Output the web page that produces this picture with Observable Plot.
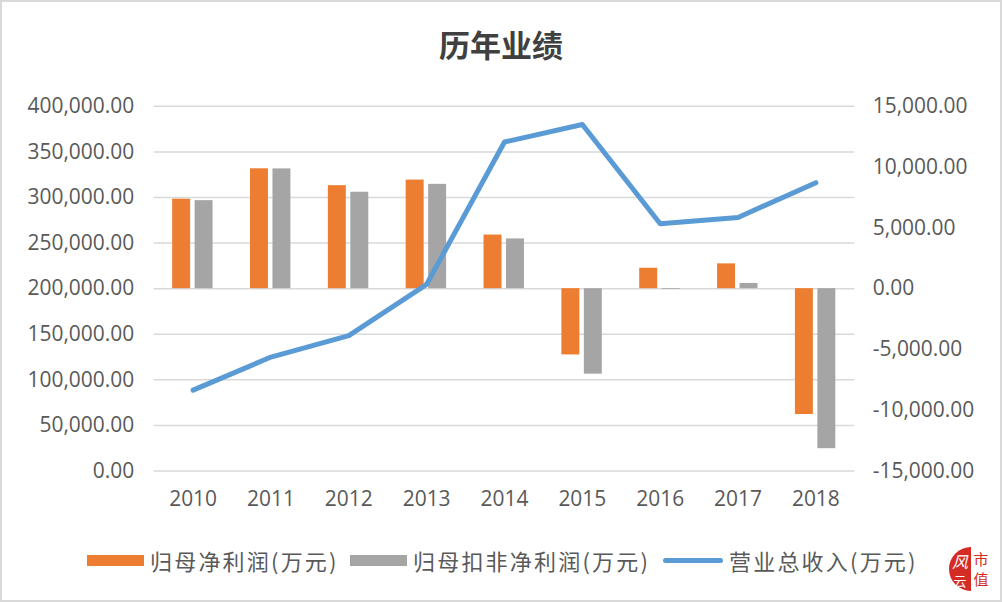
<!DOCTYPE html>
<html>
<head>
<meta charset="utf-8">
<script src="https://cdn.jsdelivr.net/npm/d3@7"></script>
<script src="https://cdn.jsdelivr.net/npm/@observablehq/plot@0.6"></script>
<style>
  html, body { margin: 0; padding: 0; background: #fff; }
  #wrap { position: relative; width: 1002px; height: 602px; box-sizing: border-box; border: 2px solid #d9d9d9; overflow: hidden; background: #fff; font-family: "Noto Sans CJK SC", "Open Sans", sans-serif; }
  #title { position: absolute; left: 0; right: 0; top: 20px; text-align: center; font-size: 31px; font-weight: bold; color: #404040; line-height: 44px; }
  #chart { position: absolute; left: -2px; top: -2px; }
  #legend { position: absolute; left: 0; top: 542px; width: 1002px; height: 32px; }
  .li { position: absolute; top: 0; display: flex; align-items: center; height: 32px; font-size: 22px; letter-spacing: 2.2px; color: #595959; }
  .sw { display: inline-block; margin-right: 6px; }
</style>
</head>
<body>
<div id="wrap">
  <div id="title">历年业绩</div>
  <div id="chart"></div>
  <div id="legend"></div>
  <svg id="logo" width="60" height="60" style="position:absolute; left:938px; top:536px;">
    <defs><clipPath id="lh"><rect x="0" y="0" width="31" height="60"></rect></clipPath></defs>
    <circle cx="31" cy="31" r="22" fill="#d42b24" clip-path="url(#lh)"></circle>
    <text x="20" y="30" font-size="16" fill="#fff" text-anchor="middle" font-family="Noto Sans CJK SC" font-style="italic">风</text>
    <text x="20" y="48" font-size="13" fill="#fff" text-anchor="middle" font-family="Noto Sans CJK SC">云</text>
    <text x="41" y="27" font-size="15" fill="#d42b24" text-anchor="middle" font-family="Noto Sans CJK SC">市</text>
    <text x="41" y="47" font-size="15" fill="#d42b24" text-anchor="middle" font-family="Noto Sans CJK SC">值</text>
  </svg>
</div>
<script>
// ---- data ----
const years = ["2010", "2011", "2012", "2013", "2014", "2015", "2016", "2017", "2018"];
const netProfit = [7360, 9860, 8470, 8930, 4410, -5450, 1680, 2040, -10350];        // 归母净利润(万元) – right axis
const deductedProfit = [7240, 9850, 7930, 8580, 4090, -7030, -60, 430, -13160];     // 归母扣非净利润(万元) – right axis
const revenue = [88700, 125000, 148600, 204800, 360800, 380000, 271200, 278100, 316200]; // 营业总收入(万元) – left axis
const leftTicks = [0, 50000, 100000, 150000, 200000, 250000, 300000, 350000, 400000];
const rightTicks = [-15000, -10000, -5000, 0, 5000, 10000, 15000];
const seriesNames = ["归母净利润(万元)", "归母扣非净利润(万元)", "营业总收入(万元)"];
const colors = ["#ED7D31", "#A5A5A5", "#5B9BD5"];

// left axis [0, 400000] mapped onto right axis [-15000, 15000]
const leftMin = 0, leftMax = 400000, rightMin = -15000, rightMax = 15000;
const toRight = v => (v - leftMin) / (leftMax - leftMin) * (rightMax - rightMin) + rightMin;
const toLeft = r => (r - rightMin) / (rightMax - rightMin) * (leftMax - leftMin) + leftMin;

const rows = years.map((y, i) => ({year: y, net: netProfit[i], ded: deductedProfit[i], rev: revenue[i]}));
const fmt = d3.formatLocale({decimal: ".", thousands: ",", grouping: [3], currency: ["", ""], minus: "-"}).format(",.2f");
const font = "Open Sans, Noto Sans CJK SC, sans-serif";

const chart = Plot.plot({
  width: 1002,
  height: 530,
  marginTop: 106,
  marginBottom: 58.5,
  marginLeft: 154,
  marginRight: 146,
  style: {fontFamily: font, fontSize: "21px", color: "#595959", background: "transparent"},
  x: {type: "band", domain: years, paddingInner: 0, paddingOuter: 0},
  y: {domain: [rightMin, rightMax]},
  marks: [
    Plot.ruleY(leftTicks, {y: d => toRight(d), stroke: "#d9d9d9", strokeWidth: 1.5}),
    Plot.barY(rows, {x: "year", y1: 0, y2: "net", fill: colors[0], insetLeft: 18.5, insetRight: 41.5}),
    Plot.barY(rows, {x: "year", y1: 0, y2: "ded", fill: colors[1], insetLeft: 41, insetRight: 19}),
    Plot.line(rows, {x: "year", y: d => toRight(d.rev), stroke: colors[2], strokeWidth: 5, strokeLinejoin: "round", strokeLinecap: "round"}),
    Plot.axisX({tickSize: 0, tickPadding: 20, fill: "#595959", fontSize: 21, label: null}),
    Plot.axisY(leftTicks.map(toRight), {anchor: "left", tickSize: 0, tickPadding: 20, tickFormat: d => fmt(Math.round(toLeft(d))), fill: "#595959", fontSize: 21, label: null}),
    Plot.axisY(rightTicks, {anchor: "right", tickSize: 0, tickPadding: 18, tickFormat: d => fmt(d), fill: "#595959", fontSize: 21, label: null})
  ]
});
document.getElementById("chart").appendChild(chart);

// ---- legend ----
const legend = document.getElementById("legend");
const items = [
  {name: seriesNames[0], color: colors[0], type: "rect", left: 85},
  {name: seriesNames[1], color: colors[1], type: "rect", left: 348},
  {name: seriesNames[2], color: colors[2], type: "line", left: 661}
];
for (const it of items) {
  const d = document.createElement("div");
  d.className = "li";
  d.style.left = it.left + "px";
  const sw = document.createElement("span");
  sw.className = "sw";
  if (it.type === "rect") {
    sw.style.width = "57px";
    sw.style.height = "11px";
    sw.style.background = it.color;
  } else {
    sw.style.width = "60px";
    sw.style.height = "5px";
    sw.style.borderRadius = "3px";
    sw.style.background = it.color;
  }
  d.appendChild(sw);
  const t = document.createElement("span");
  t.textContent = it.name;
  d.appendChild(t);
  legend.appendChild(d);
}
</script>
</body>
</html>
